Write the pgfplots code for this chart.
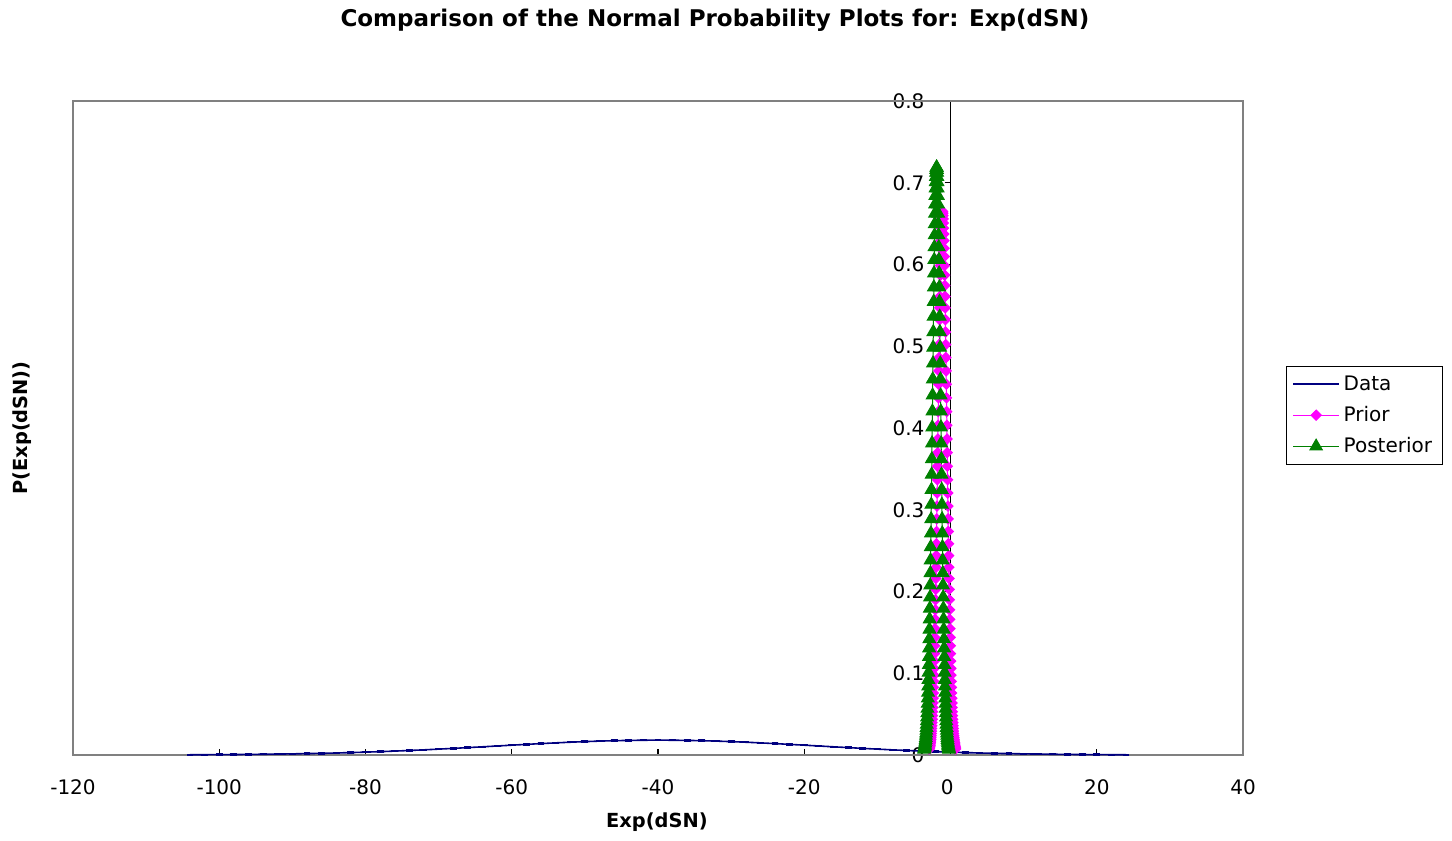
\documentclass[border=0pt]{standalone}
\usepackage{fontspec}
\setmainfont{DejaVu Sans}
\usepackage{pgfplots}
\usepackage{pgfplotstable}
\pgfplotsset{compat=1.18}
\definecolor{navyb}{RGB}{0,0,128}
\definecolor{mag}{RGB}{255,0,255}
\definecolor{grn}{RGB}{0,128,0}

\pgfplotstableread{
x y
-104 0.00026
-102 0.00034
-100 0.00044
-98 0.00056
-96 0.00071
-94 0.00089
-92 0.00111
-90 0.00137
-88 0.00168
-86 0.00204
-84 0.00245
-82 0.00293
-80 0.00347
-78 0.00408
-76 0.00475
-74 0.00549
-72 0.00629
-70 0.00716
-68 0.00807
-66 0.00902
-64 0.01000
-62 0.01100
-60 0.01199
-58 0.01297
-56 0.01392
-54 0.01481
-52 0.01562
-50 0.01635
-48 0.01697
-46 0.01747
-44 0.01783
-42 0.01806
-40 0.01813
-38 0.01806
-36 0.01783
-34 0.01747
-32 0.01697
-30 0.01635
-28 0.01562
-26 0.01481
-24 0.01392
-22 0.01297
-20 0.01199
-18 0.01100
-16 0.01000
-14 0.00902
-12 0.00807
-10 0.00716
-8 0.00629
-6 0.00549
-4 0.00475
-2 0.00408
0 0.00347
2 0.00293
4 0.00245
6 0.00204
8 0.00168
10 0.00137
12 0.00111
14 0.00089
16 0.00071
18 0.00056
20 0.00044
22 0.00034
24 0.00026
}\datatab

\pgfplotstableread{
x y
-2.900 0.0074
-2.875 0.0084
-2.850 0.0095
-2.825 0.0107
-2.800 0.0120
-2.775 0.0135
-2.750 0.0152
-2.725 0.0170
-2.700 0.0190
-2.675 0.0212
-2.650 0.0236
-2.625 0.0263
-2.600 0.0292
-2.575 0.0324
-2.550 0.0358
-2.525 0.0396
-2.500 0.0437
-2.475 0.0481
-2.450 0.0529
-2.425 0.0581
-2.400 0.0636
-2.375 0.0695
-2.350 0.0759
-2.325 0.0827
-2.300 0.0900
-2.275 0.0977
-2.250 0.1059
-2.225 0.1147
-2.200 0.1239
-2.175 0.1336
-2.150 0.1438
-2.125 0.1546
-2.100 0.1659
-2.075 0.1776
-2.050 0.1899
-2.025 0.2026
-2.000 0.2159
-1.975 0.2296
-1.950 0.2438
-1.925 0.2584
-1.900 0.2734
-1.875 0.2888
-1.850 0.3044
-1.825 0.3205
-1.800 0.3367
-1.775 0.3532
-1.750 0.3698
-1.725 0.3865
-1.700 0.4033
-1.675 0.4201
-1.650 0.4369
-1.625 0.4535
-1.600 0.4699
-1.575 0.4861
-1.550 0.5020
-1.525 0.5175
-1.500 0.5325
-1.475 0.5470
-1.450 0.5609
-1.425 0.5743
-1.400 0.5869
-1.375 0.5987
-1.350 0.6097
-1.325 0.6198
-1.300 0.6291
-1.275 0.6373
-1.250 0.6445
-1.225 0.6507
-1.200 0.6558
-1.175 0.6598
-1.150 0.6627
-1.125 0.6644
-1.100 0.6650
-1.075 0.6644
-1.050 0.6627
-1.025 0.6598
-1.000 0.6558
-0.975 0.6507
-0.950 0.6445
-0.925 0.6373
-0.900 0.6291
-0.875 0.6198
-0.850 0.6097
-0.825 0.5987
-0.800 0.5869
-0.775 0.5743
-0.750 0.5609
-0.725 0.5470
-0.700 0.5325
-0.675 0.5175
-0.650 0.5020
-0.625 0.4861
-0.600 0.4699
-0.575 0.4535
-0.550 0.4369
-0.525 0.4201
-0.500 0.4033
-0.475 0.3865
-0.450 0.3698
-0.425 0.3532
-0.400 0.3367
-0.375 0.3205
-0.350 0.3044
-0.325 0.2888
-0.300 0.2734
-0.275 0.2584
-0.250 0.2438
-0.225 0.2296
-0.200 0.2159
-0.175 0.2026
-0.150 0.1899
-0.125 0.1776
-0.100 0.1659
-0.075 0.1546
-0.050 0.1438
-0.025 0.1336
0.000 0.1239
0.025 0.1147
0.050 0.1059
0.075 0.0977
0.100 0.0900
0.125 0.0827
0.150 0.0759
0.175 0.0695
0.200 0.0636
0.225 0.0581
0.250 0.0529
0.275 0.0481
0.300 0.0437
0.325 0.0396
0.350 0.0358
0.375 0.0324
0.400 0.0292
0.425 0.0263
0.450 0.0236
0.475 0.0212
0.500 0.0190
0.525 0.0170
0.550 0.0152
0.575 0.0135
0.600 0.0120
0.625 0.0107
0.650 0.0095
0.675 0.0084
0.700 0.0074
}\priortab

\pgfplotstableread{
x y
-3.600 0.0066
-3.575 0.0076
-3.550 0.0087
-3.525 0.0099
-3.500 0.0113
-3.475 0.0128
-3.450 0.0145
-3.425 0.0165
-3.400 0.0186
-3.375 0.0210
-3.350 0.0237
-3.325 0.0266
-3.300 0.0298
-3.275 0.0334
-3.250 0.0373
-3.225 0.0416
-3.200 0.0462
-3.175 0.0514
-3.150 0.0569
-3.125 0.0629
-3.100 0.0694
-3.075 0.0764
-3.050 0.0840
-3.025 0.0921
-3.000 0.1009
-2.975 0.1102
-2.950 0.1201
-2.925 0.1306
-2.900 0.1418
-2.875 0.1536
-2.850 0.1661
-2.825 0.1793
-2.800 0.1930
-2.775 0.2075
-2.750 0.2225
-2.725 0.2382
-2.700 0.2544
-2.675 0.2712
-2.650 0.2885
-2.625 0.3063
-2.600 0.3245
-2.575 0.3432
-2.550 0.3621
-2.525 0.3814
-2.500 0.4008
-2.475 0.4204
-2.450 0.4400
-2.425 0.4596
-2.400 0.4791
-2.375 0.4985
-2.350 0.5175
-2.325 0.5363
-2.300 0.5545
-2.275 0.5722
-2.250 0.5894
-2.225 0.6057
-2.200 0.6213
-2.175 0.6359
-2.150 0.6496
-2.125 0.6623
-2.100 0.6738
-2.075 0.6841
-2.050 0.6932
-2.025 0.7010
-2.000 0.7074
-1.975 0.7125
-1.950 0.7160
-1.925 0.7183
-1.900 0.7190
-1.875 0.7183
-1.850 0.7160
-1.825 0.7125
-1.800 0.7074
-1.775 0.7010
-1.750 0.6932
-1.725 0.6841
-1.700 0.6738
-1.675 0.6623
-1.650 0.6496
-1.625 0.6359
-1.600 0.6213
-1.575 0.6057
-1.550 0.5894
-1.525 0.5722
-1.500 0.5545
-1.475 0.5363
-1.450 0.5175
-1.425 0.4985
-1.400 0.4791
-1.375 0.4596
-1.350 0.4400
-1.325 0.4204
-1.300 0.4008
-1.275 0.3814
-1.250 0.3621
-1.225 0.3432
-1.200 0.3245
-1.175 0.3063
-1.150 0.2885
-1.125 0.2712
-1.100 0.2544
-1.075 0.2382
-1.050 0.2225
-1.025 0.2075
-1.000 0.1930
-0.975 0.1793
-0.950 0.1661
-0.925 0.1536
-0.900 0.1418
-0.875 0.1306
-0.850 0.1201
-0.825 0.1102
-0.800 0.1009
-0.775 0.0921
-0.750 0.0840
-0.725 0.0764
-0.700 0.0694
-0.675 0.0629
-0.650 0.0569
-0.625 0.0514
-0.600 0.0462
-0.575 0.0416
-0.550 0.0373
-0.525 0.0334
-0.500 0.0298
-0.475 0.0266
-0.450 0.0237
-0.425 0.0210
-0.400 0.0186
-0.375 0.0165
-0.350 0.0145
-0.325 0.0128
-0.300 0.0113
-0.275 0.0099
-0.250 0.0087
-0.225 0.0076
-0.200 0.0066
}\posttab

\begin{document}
\begin{tikzpicture}
\begin{axis}[
  scale only axis, width=585pt, height=327pt,
  xmin=-120, xmax=40, ymin=0, ymax=0.8,
  axis lines=middle,
  axis line style={-, black, line width=0.6pt},
  hide obscured x ticks=false, hide obscured y ticks=false,
  xtick={-120,-100,-80,-60,-40,-20,0,20,40},
  xticklabels={-120,-100,-80,-60,-40,-20,{},20,40},
  extra x ticks={-0.45},
  extra x tick labels={0},
  extra x tick style={major tick length=0pt},
  ytick={0,0.1,0.2,0.3,0.4,0.5,0.6,0.7,0.8},
  yticklabels={0,0.1,0.2,0.3,0.4,0.5,0.6,0.7,0.8},
  xtick align=inside, ytick align=outside,
  major tick length=3pt,
  tick style={black, line width=0.6pt},
  /pgf/number format/assume math mode=true,
  tick label style={font=\fontsize{10}{12}\selectfont},
  xticklabel style={anchor=center, yshift=-16pt},
  yticklabel style={anchor=east, xshift=-6.5pt},
  clip=false,
  legend style={at={(1.0368,0.5948)}, anchor=north west, draw=black, line width=0.5pt,
    font=\fontsize{10}{12}\selectfont, row sep=2.5pt, inner xsep=3pt, inner ysep=2.5pt},
  legend cell align=left,
  legend image code/.code={\draw[mark repeat=2,mark phase=2] plot coordinates {(0cm,0cm) (0.4cm,0cm) (0.8cm,0cm)};},
]
\draw[gray, line width=0.6pt] (rel axis cs:0,0) rectangle (rel axis cs:1,1);

\addplot[navyb, line width=0.8pt, mark=-, mark size=1.7pt, mark options={line width=1.2pt}] table[x=x, y=y] {\datatab};
\addlegendentry{Data}

\addplot[mag, line width=0.5pt, mark=square*, mark size=1.8pt, mark options={rotate=45, fill=mag, draw=mag}] table[x=x, y=y] {\priortab};
\addlegendentry{Prior}

\addplot[grn, line width=0.5pt, mark=triangle*, mark size=3.6pt, mark options={fill=grn, draw=grn}] table[x=x, y=y] {\posttab};
\addlegendentry{Posterior}

\node[font=\bfseries\fontsize{11.5}{13}\selectfont] at ([yshift=40.5pt]rel axis cs:0.5487,1) {Comparison of the Normal Probability Plots for: Exp(dSN)};
\node[font=\bfseries\fontsize{9.7}{12}\selectfont] at ([yshift=-33.5pt]rel axis cs:0.4991,0) {Exp(dSN)};
\node[font=\bfseries\fontsize{9.7}{12}\selectfont, rotate=90] at ([xshift=-25.5pt]rel axis cs:0,0.5) {P(Exp(dSN))};
\path ([xshift=-36.5pt,yshift=-43pt]rel axis cs:0,0) rectangle ([xshift=104.5pt,yshift=50.5pt]rel axis cs:1,1);
\end{axis}
\end{tikzpicture}
\end{document}
